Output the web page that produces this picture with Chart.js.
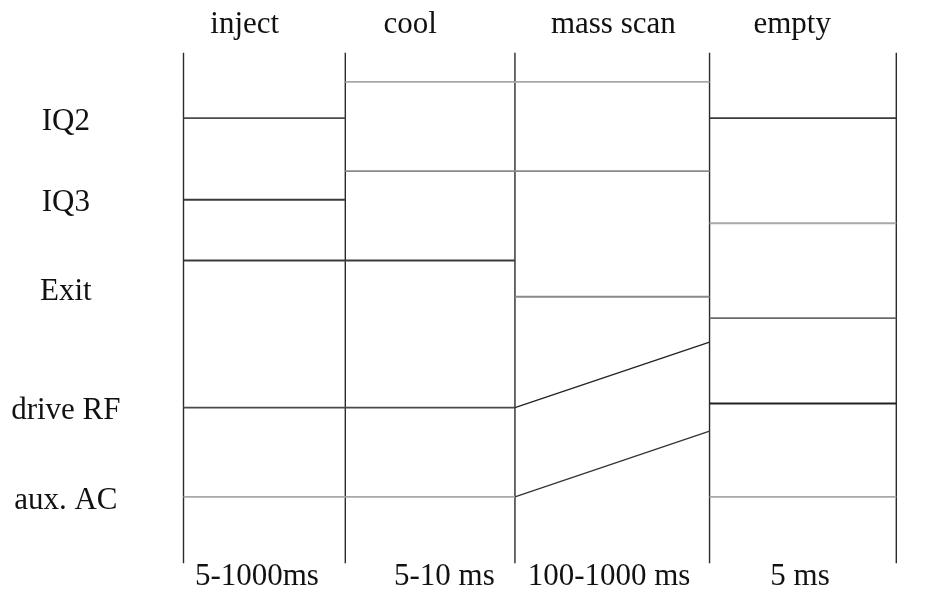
<!DOCTYPE html>
<html>
<head>
<meta charset="utf-8">
<script src="https://cdn.jsdelivr.net/npm/chart.js@4"></script>
<style>
  html, body { margin: 0; padding: 0; background: #fff; }
  #wrap { width: 928px; height: 594px; position: relative; }
</style>
</head>
<body>
<div id="wrap"><canvas id="timing"></canvas></div>
<script>
"use strict";

// phases along the time axis (x in % of the scan cycle width)
const phases = ['inject', 'cool', 'mass scan', 'empty'];
const durations = ['5-1000ms', '5-10 ms', '100-1000 ms', '5 ms'];
const phaseEdges = [0, 22.7, 46.5, 73.8, 100];
const phaseLabelPos = [8.6, 31.8, 60.3, 85.4];
const durationLabelPos = [10.3, 36.6, 59.7, 86.5];

// signals, levels at start and end of every phase (0 = bottom, 100 = top)
const signals = ['IQ2', 'IQ3', 'Exit', 'drive RF', 'aux. AC'];
const signalLabelPos = [86.4, 70.6, 53.1, 29.9, 12.2];
const iq2Start = [87.2, 94.3, 94.3, 87.2];
const iq2End = [87.2, 94.3, 94.3, 87.2];
const iq3Start = [71.2, 76.8, 76.8, 66.6];
const iq3End = [71.2, 76.8, 76.8, 66.6];
const exitStart = [59.3, 59.3, 52.2, 48.0];
const exitEnd = [59.3, 59.3, 52.2, 48.0];
const driveRfStart = [30.5, 30.5, 30.5, 31.3];
const driveRfEnd = [30.5, 30.5, 43.3, 31.3];
const auxAcStart = [13.0, 13.0, 13.0, 13.0];
const auxAcEnd = [13.0, 13.0, 25.9, 13.0];

// line shade per phase
const iq2Colors = ['#4a4a4a', '#a8a8a8', '#a8a8a8', '#3a3a3a'];
const iq3Colors = ['#3a3a3a', '#8a8a8a', '#8a8a8a', '#a8a8a8'];
const exitColors = ['#3a3a3a', '#3a3a3a', '#8a8a8a', '#6a6a6a'];
const driveRfColors = ['#4a4a4a', '#4a4a4a', '#222222', '#222222'];
const auxAcColors = ['#a8a8a8', '#a8a8a8', '#333333', '#a8a8a8'];

function signalData(starts, ends) {
    let pts = [];
    for (let i = 0; i < phases.length; i++) {
        pts.push({ x: phaseEdges[i], y: starts[i] });
        pts.push({ x: phaseEdges[i + 1], y: ends[i] });
        pts.push({ x: phaseEdges[i + 1], y: null });
    }
    return pts;
}

function signalSet(name, starts, ends, colors) {
    return {
        label: name,
        data: signalData(starts, ends),
        borderColor: colors[0],
        borderWidth: 1.8,
        pointRadius: 0,
        spanGaps: false,
        clip: false,
        segment: {
            borderColor: ctx => colors[Math.floor(ctx.p0DataIndex / 3)],
            borderWidth: ctx => (Math.floor(ctx.p0DataIndex / 3) == 2 && starts[2] != ends[2]) ? 1.3 : 1.8
        }
    };
}

let datasets = [
    signalSet('IQ2', iq2Start, iq2End, iq2Colors),
    signalSet('IQ3', iq3Start, iq3End, iq3Colors),
    signalSet('Exit', exitStart, exitEnd, exitColors),
    signalSet('drive RF', driveRfStart, driveRfEnd, driveRfColors),
    signalSet('aux. AC', auxAcStart, auxAcEnd, auxAcColors)
];

// phase boundaries
for (let i = 0; i < phaseEdges.length; i++) {
    datasets.push({
        label: 'edge' + i,
        data: [{ x: phaseEdges[i], y: 0 }, { x: phaseEdges[i], y: 100 }],
        borderColor: '#2a2a2a',
        borderWidth: 1.4,
        pointRadius: 0,
        clip: false
    });
}

const labelFont = { family: 'Liberation Serif', size: 31 };

function fixedTicks(values) {
    return function (scale) {
        scale.ticks = values.map(v => ({ value: v }));
    };
}

new Chart(document.getElementById('timing'), {
    type: 'line',
    data: { datasets: datasets },
    options: {
        responsive: true,
        maintainAspectRatio: false,
        animation: false,
        devicePixelRatio: 1,
        layout: { padding: { left: 0, right: 31.7, top: 0, bottom: 0 } },
        plugins: { legend: { display: false }, tooltip: { enabled: false } },
        scales: {
            x: {
                type: 'linear', position: 'bottom', min: 0, max: 100,
                grid: { display: false, drawTicks: false },
                border: { display: false },
                afterBuildTicks: fixedTicks(durationLabelPos),
                afterFit: s => { s.height = 30.7; s.paddingLeft = 0; s.paddingRight = 0; },
                ticks: {
                    autoSkip: false, maxRotation: 0, padding: -5,
                    color: '#111', font: labelFont,
                    callback: (v, i) => durations[i]
                }
            },
            x2: {
                type: 'linear', position: 'top', min: 0, max: 100,
                grid: { display: false, drawTicks: false },
                border: { display: false },
                afterBuildTicks: fixedTicks(phaseLabelPos),
                afterFit: s => { s.height = 52.7; s.paddingLeft = 0; s.paddingRight = 0; },
                ticks: {
                    autoSkip: false, maxRotation: 0, padding: 9,
                    color: '#111', font: labelFont,
                    callback: (v, i) => phases[i]
                }
            },
            y: {
                type: 'linear', min: 0, max: 100,
                grid: { display: false, drawTicks: false },
                border: { display: false },
                afterBuildTicks: fixedTicks(signalLabelPos),
                afterFit: s => { s.width = 183.5; s.paddingTop = 0; s.paddingBottom = 0; },
                ticks: {
                    autoSkip: false, padding: 63, crossAlign: 'center',
                    color: '#111', font: labelFont,
                    callback: (v, i) => signals[i]
                }
            }
        }
    }
});
</script>
</body>
</html>
